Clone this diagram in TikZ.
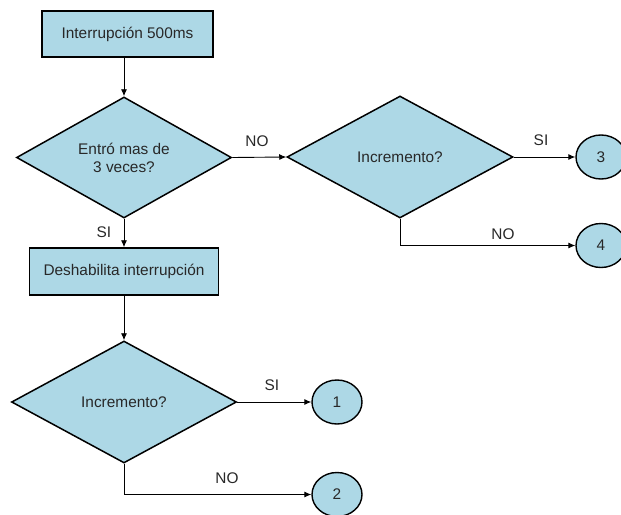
\documentclass[tikz,border=0pt]{standalone}
\usepackage{fontspec}
\setmainfont{Liberation Sans}
\usetikzlibrary{shapes.geometric,arrows.meta}
\definecolor{boxfill}{RGB}{173,216,230}
\definecolor{ink}{RGB}{40,40,40}
\begin{document}
\begin{tikzpicture}[x=1pt,y=-1pt,
  every node/.style={font=\fontsize{15.4}{18}\selectfont, text=ink},
  procbox/.style={draw=black, line width=1.5pt, fill=boxfill, rectangle, inner sep=0pt},
  decision/.style={draw=black, line width=1.5pt, fill=boxfill, diamond, inner sep=0pt, aspect=1.8, align=center},
  connector/.style={draw=black, line width=1.4pt, fill=boxfill, ellipse, inner sep=0pt, minimum width=50pt, minimum height=44pt},
  flow/.style={draw=black, line width=0.9pt, -{Latex[length=7pt,width=6pt]}},
  lbl/.style={font=\fontsize{15.4}{18}\selectfont}
]
\useasboundingbox (0,0) rectangle (621,514);
\fill[white] (0,0) rectangle (621,514);

% process boxes
\node[procbox, minimum width=171pt, minimum height=46pt] (start) at (127.5,34) {Interrupción 500ms};
\node[procbox, minimum width=189pt, minimum height=47pt] (disable) at (124,271.5) {Deshabilita interrupción};

% decisions
\node[decision, minimum width=215pt, minimum height=121pt] (times) at (124,157.5) {Entró mas de\\3 veces?};
\node[decision, minimum width=226pt, minimum height=122pt] (incA) at (400,157) {Incremento?};
\node[decision, minimum width=225pt, minimum height=122pt] (incB) at (124,402) {Incremento?};

% off-page connectors
\node[connector] (c3) at (601,157) {3};
\node[connector] (c4) at (601,245.5) {4};
\node[connector] (c1) at (337,402) {1};
\node[connector] (c2) at (337,494.5) {2};

% flow lines
\draw[flow] (start.south -| times.north) -- (times.north);
\draw[flow] (times.east) -- (incA.west);
\draw[flow] (times.south) -- (disable.north -| times.south);
\draw[flow] (incA.east) -- (c3.west);
\draw[flow] (incA.south) |- (c4.west);
\draw[flow] (disable.south -| incB.north) -- (incB.north);
\draw[flow] (incB.east) -- (c1.west);
\draw[flow] (incB.south) |- (c2.west);

% branch labels
\node[lbl] (l1) at (257,141) {NO};
\node[lbl] (l2) at (104,232) {SI};
\node[lbl] (l3) at (541,140) {SI};
\node[lbl] (l4) at (503,234) {NO};
\node[lbl] (l5) at (272,385) {SI};
\node[lbl] (l6) at (227,478) {NO};
\end{tikzpicture}
\end{document}
